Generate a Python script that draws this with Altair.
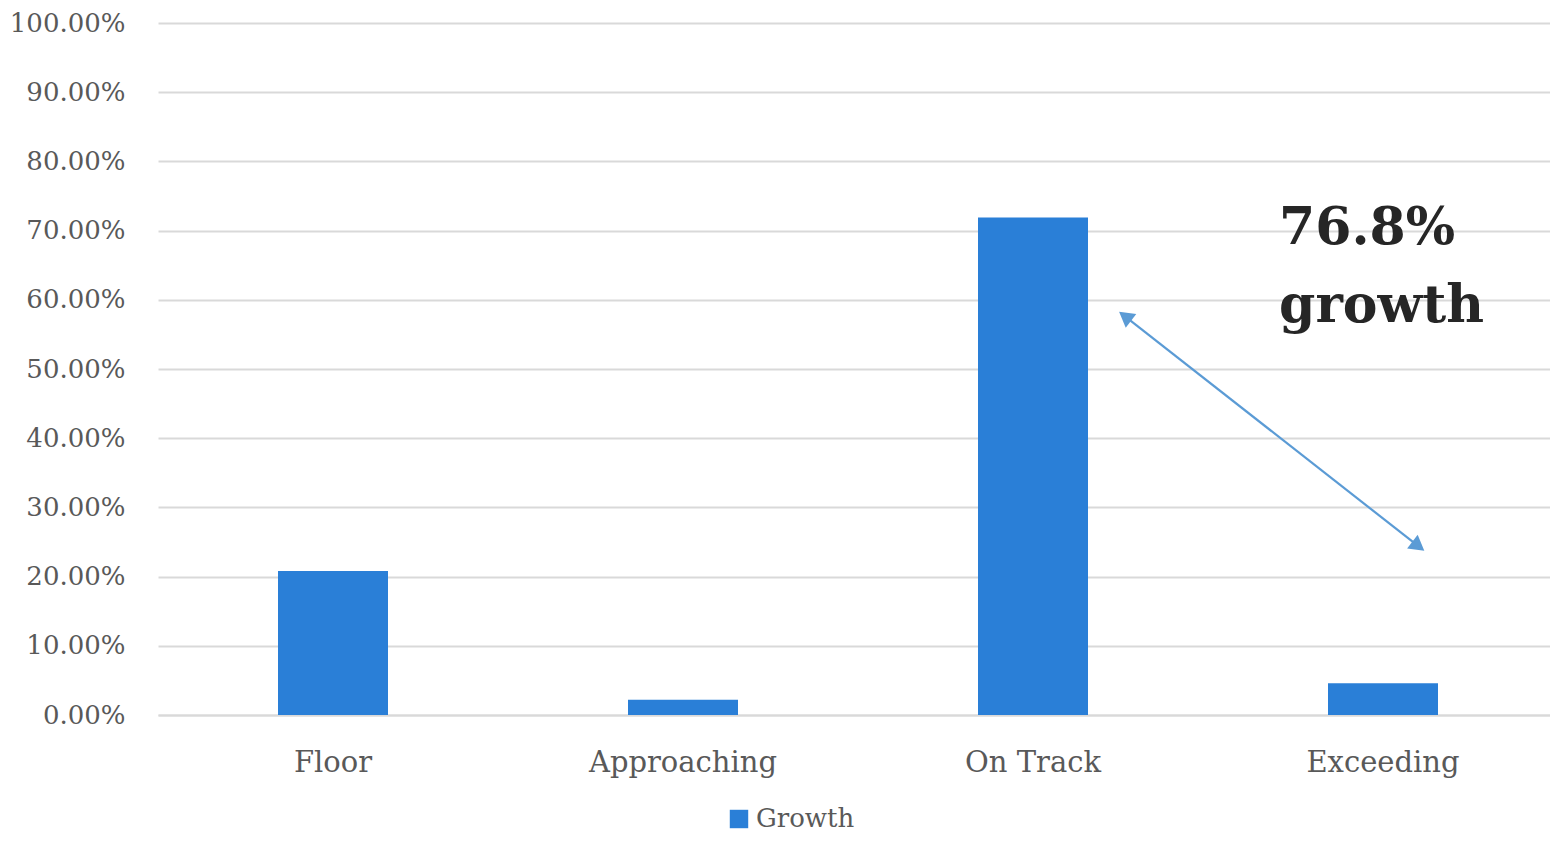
import altair as alt
import pandas as pd

# ---- data ----
categories = ["Floor", "Approaching", "On Track", "Exceeding"]
growth = [0.208, 0.022, 0.719, 0.046]
series_name = ["Growth"] * 4
y_ticks = [0.0, 0.1, 0.2, 0.3, 0.4, 0.5, 0.6, 0.7, 0.8, 0.9, 1.0]

# annotation (in data units: x = category slots 0..4, y = share)
arrow_x = [2.763, 3.601]
arrow_y = [0.576, 0.244]
note_lines = ["76.8%", "growth"]
note_x = [3.203, 3.203]
note_y = [0.681, 0.568]

FONT = "DejaVu Serif"
BLUE = "#2A7FD7"
ARROW = "#5B9BD5"

bars_df = pd.DataFrame({"category": categories, "value": growth, "series": series_name})
arrow_df = pd.DataFrame({"x": arrow_x, "y": arrow_y, "order": [0, 1]})
head_start_df = pd.DataFrame({"x": [arrow_x[0]], "y": [arrow_y[0]]})
head_end_df = pd.DataFrame({"x": [arrow_x[1]], "y": [arrow_y[1]]})
note_df = pd.DataFrame({"text": note_lines, "x": note_x, "y": note_y})

yscale = alt.Scale(domain=[0, 1])
xq = alt.Scale(domain=[0, 4])
yaxis = alt.Axis(format=".2%", values=y_ticks, labelOverlap=False,
                 ticks=False, domain=False, gridColor="#d9d9d9", gridWidth=2,
                 labelFont=FONT, labelFontSize=26, labelColor="#595959",
                 labelPadding=33)

bars = alt.Chart(bars_df).mark_bar(size=110).encode(
    x=alt.X("category:N", sort=categories, title=None,
            scale=alt.Scale(paddingInner=0.686, paddingOuter=0.343),
            axis=alt.Axis(labelAngle=0, ticks=False, domain=True, domainColor="#d9d9d9",
                          domainWidth=2, labelFont=FONT, labelFontSize=29, labelLimit=400,
                          labelColor="#595959", labelPadding=33, grid=False)),
    y=alt.Y("value:Q", scale=yscale, title=None, axis=yaxis),
    color=alt.Color("series:N", scale=alt.Scale(range=[BLUE]),
                    legend=alt.Legend(title=None, orient="none", legendX=568, legendY=783,
                                      symbolType="square", symbolSize=340, symbolStrokeWidth=0,
                                      labelFont=FONT, labelFontSize=26, labelColor="#595959",
                                      symbolOpacity=1)),
)

line = alt.Chart(arrow_df).mark_line(color=ARROW, strokeWidth=2.2).encode(
    x=alt.X("x:Q", scale=xq, axis=None),
    y=alt.Y("y:Q", scale=yscale, title=None, axis=yaxis),
    order="order:O",
)

head_start = alt.Chart(head_start_df).mark_point(
    shape="triangle-up", filled=True, color=ARROW, size=300, angle=307.5, opacity=1
).encode(x=alt.X("x:Q", scale=xq, axis=None),
         y=alt.Y("y:Q", scale=yscale, title=None, axis=yaxis))

head_end = alt.Chart(head_end_df).mark_point(
    shape="triangle-up", filled=True, color=ARROW, size=300, angle=127.5, opacity=1
).encode(x=alt.X("x:Q", scale=xq, axis=None),
         y=alt.Y("y:Q", scale=yscale, title=None, axis=yaxis))

note = alt.Chart(note_df).mark_text(
    font=FONT, fontSize=52, fontWeight="bold", color="#262626", align="left",
    baseline="alphabetic"
).encode(x=alt.X("x:Q", scale=xq, axis=None),
         y=alt.Y("y:Q", scale=yscale, title=None, axis=yaxis),
         text="text:N")

chart = alt.layer(bars, line, head_start, head_end, note).resolve_scale(
    x="independent"
).properties(
    width=1400, height=692,
    padding={"left": 150, "top": 15, "right": -8, "bottom": 119},
    autosize=alt.AutoSizeParams(type="none"),
    background="white",
).configure_view(stroke=None)

chart.save("out.html", embed_options={"renderer": "svg", "actions": False})
